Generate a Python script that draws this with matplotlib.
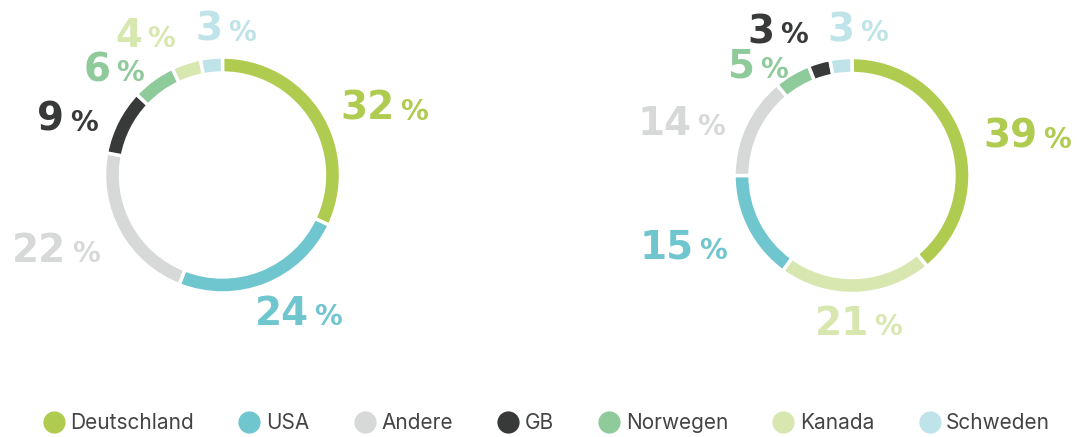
import matplotlib
matplotlib.use("Agg")
import matplotlib.pyplot as plt
from matplotlib.lines import Line2D
from matplotlib.offsetbox import TextArea, HPacker, AnnotationBbox
import numpy as np

# legend order
countries = ["Deutschland", "USA", "Andere", "GB", "Norwegen", "Kanada", "Schweden"]
palette = ["#afcb50", "#6fc6ce", "#d7d8d8", "#383a39", "#8fca9b", "#d8e7b0", "#bee3e8"]

# left donut, clockwise from 12 o'clock
left_names = ["Deutschland", "USA", "Andere", "GB", "Norwegen", "Kanada", "Schweden"]
left_values = [32, 24, 22, 9, 6, 4, 3]

# right donut, clockwise from 12 o'clock
right_names = ["Deutschland", "Kanada", "USA", "Andere", "Norwegen", "GB", "Schweden"]
right_values = [39, 21, 15, 14, 5, 3, 3]

colors = dict(zip(countries, palette))

W, H = 1086, 437
DPI = 100
NUM_SIZE = 28
PCT_SIZE = 20
fig = plt.figure(figsize=(W / DPI, H / DPI), dpi=DPI)
renderer = fig.canvas.get_renderer()


def make_label(value, color):
    num = TextArea(str(value), textprops=dict(fontsize=NUM_SIZE, fontweight="bold",
                                              color=color, family="DejaVu Sans"))
    pct = TextArea("%", textprops=dict(fontsize=PCT_SIZE, fontweight="bold",
                                       color=color, family="DejaVu Sans"))
    return HPacker(children=[num, pct], align="baseline", pad=0, sep=4)


def donut(cx, cy, R, names, values):
    ax = fig.add_axes([(cx - R) / W, (H - cy - R) / H, 2 * R / W, 2 * R / H])
    wedges, _ = ax.pie(values, colors=[colors[n] for n in names], startangle=90,
                       counterclock=False, radius=1,
                       wedgeprops=dict(width=0.136, edgecolor="white", linewidth=2.5))
    ax.set_xlim(-1, 1)
    ax.set_ylim(-1, 1)
    ax.axis("off")

    # centre of the donut in figure pixels (y up)
    ox, oy = ax.transData.transform((0, 0))
    r_pix = ax.transData.transform((1, 0))[0] - ox
    cap = 0.73 * NUM_SIZE * DPI / 72

    boxes = []
    for w, v, n in zip(wedges, values, names):
        box = make_label(v, colors[n])
        ab = AnnotationBbox(box, (0, 0), xycoords="figure pixels",
                            frameon=False, annotation_clip=False)
        fig.add_artist(ab)
        bb = box.get_bbox(renderer)
        # anchor on the middle of the digits, not the text box
        ab.box_alignment = (0.5, (-bb.y0 + cap / 2) / bb.height)
        bw, bh = bb.width, cap
        theta = np.deg2rad((w.theta1 + w.theta2) / 2)
        c, s = np.cos(theta), np.sin(theta)
        top = s > 0.9
        kx = np.clip(1.5 * c, -1, 1)
        # labels sit a little below their anchor, except those right at the top
        ky = 0.4 if top else -0.6
        d = r_pix + 22
        x = ox + d * c + bw / 2 * kx
        y = oy + d * s + bh / 2 * ky
        boxes.append([ab, x, y, bw, bh, top])

    # push overlapping labels apart
    padx, pady = 20, 6
    for _ in range(80):
        moved = False
        for i in range(len(boxes)):
            for j in range(i + 1, len(boxes)):
                a, b = boxes[i], boxes[j]
                ovx = (a[3] + b[3]) / 2 + padx - abs(a[1] - b[1])
                ovy = (a[4] + b[4]) / 2 + pady - abs(a[2] - b[2])
                if ovx > 0 and ovy > 0:
                    moved = True
                    if (a[5] and b[5]) or ovx < ovy:
                        sgn = 1 if a[1] >= b[1] else -1
                        a[1] += sgn * ovx / 2
                        b[1] -= sgn * ovx / 2
                    else:
                        sgn = 1 if a[2] >= b[2] else -1
                        a[2] += sgn * ovy / 2
                        b[2] -= sgn * ovy / 2
        if not moved:
            break

    for ab, x, y, bw, bh, top in boxes:
        ab.xy = (x, y)
        ab.xybox = (x, y)
    return ax


donut(222.5, 175, 118, left_names, left_values)
donut(852, 175.5, 118, right_names, right_values)

handles = [Line2D([], [], marker="o", linestyle="none", markersize=16,
                  markerfacecolor=colors[n], markeredgecolor="none") for n in countries]
leg = fig.legend(handles, countries, loc="center", bbox_to_anchor=(0.503, 1 - 423 / H),
                 ncol=7, frameon=False, handletextpad=0.25, columnspacing=2.1,
                 handlelength=1.1, borderaxespad=0,
                 prop=dict(family="Inter", size=15))
for t in leg.get_texts():
    t.set_color("#444444")

fig.savefig("out.png", dpi=DPI, facecolor="white")
